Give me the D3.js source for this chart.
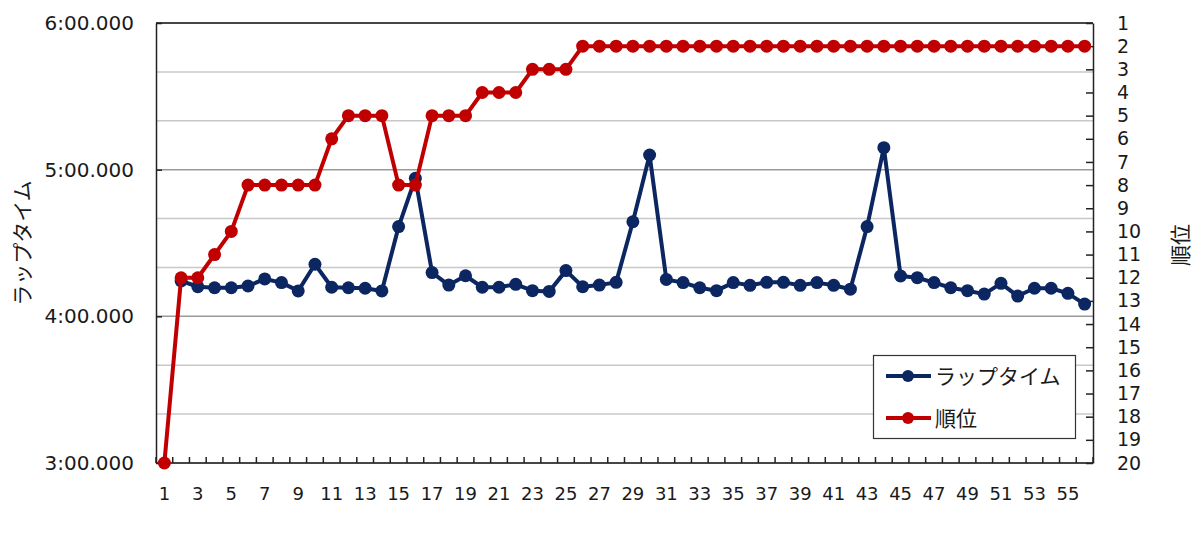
<!DOCTYPE html>
<html><head><meta charset="utf-8">
<script src="https://cdn.jsdelivr.net/npm/d3@7"></script>
<style>
body{margin:0;background:#fff;}
text{font-family:"DejaVu Sans","Noto Sans CJK JP",sans-serif;fill:#1a1a1a;}
.cjk{font-family:"Noto Sans CJK JP","DejaVu Sans",sans-serif;}
</style></head>
<body><svg id="chart" width="1200" height="554"></svg>
<script>
const laps = d3.range(1, 57);
const xTickLabels = d3.range(1, 57, 2);
// lap time in seconds (null = no lap time recorded)
const lapTime = [null,254.5,252.1,251.7,251.7,252.4,255.3,253.8,250.4,261.3,
  251.9,251.7,251.5,250.4,276.7,296.5,257.9,252.8,256.6,251.9,
  251.9,253.1,250.5,250.2,258.7,252.1,252.8,253.9,278.7,306.0,
  255.1,253.8,251.7,250.5,253.8,252.7,253.9,253.9,252.7,253.8,
  252.7,251.1,276.7,309.0,256.5,255.8,253.8,251.7,250.5,249.1,
  253.5,248.3,251.5,251.5,249.4,245.0];
const rank = [20,12,12,11,10,8,8,8,8,8,
  6,5,5,5,8,8,5,5,5,4,
  4,4,3,3,3,2,2,2,2,2,
  2,2,2,2,2,2,2,2,2,2,
  2,2,2,2,2,2,2,2,2,2,
  2,2,2,2,2,2];
const timeTicks = [180, 240, 300, 360];
const gridTicks = d3.range(180, 361, 20);
const rankTicks = d3.range(1, 21);
const seriesNames = ["ラップタイム", "順位"];
const leftTitle = "ラップタイム";
const rightTitle = "順位";

const blue = "#0b2660", red = "#c00000";
const L = 156, R = 1093, T = 23, B = 463;
const svg = d3.select("#chart");

const x = d3.scaleBand().domain(laps).range([L, R]).padding(0);
const xc = d => x(d) + x.bandwidth() / 2;
const yT = d3.scaleLinear().domain([180, 360]).range([B, T]);
const yR = d3.scaleLinear().domain([1, 20]).range([T, B]);

const fmt = s => { const m = Math.floor(s / 60); const r = s - m * 60;
  return m + ":" + String(Math.floor(r)).padStart(2, "0") + "." + String(Math.round((r % 1) * 1000)).padStart(3, "0"); };

// gridlines
svg.append("g").selectAll("line").data(gridTicks).join("line")
  .attr("x1", L).attr("x2", R).attr("y1", d => yT(d)).attr("y2", d => yT(d))
  .attr("stroke", d => d % 60 === 0 ? "#9a9a9a" : "#c8c8c8").attr("stroke-width", 1.5);

// left axis
const gl = svg.append("g").attr("transform", `translate(${L},0)`)
  .call(d3.axisLeft(yT).tickValues(timeTicks).tickFormat(fmt).tickSizeInner(-6).tickSizeOuter(0).tickPadding(22));
gl.select(".domain").attr("stroke", "#222").attr("stroke-width", 1.5);
gl.selectAll(".tick line").attr("stroke", "#222").attr("stroke-width", 1.5);
gl.selectAll("text").style("font-size", "20px").attr("fill", "#1a1a1a").style("font-family", "DejaVu Sans, sans-serif");

// right axis
const gr = svg.append("g").attr("transform", `translate(${R},0)`)
  .call(d3.axisRight(yR).tickValues(rankTicks).tickSizeInner(-7).tickSizeOuter(0).tickPadding(24));
gr.select(".domain").attr("stroke", "#222").attr("stroke-width", 1.5);
gr.selectAll(".tick line").attr("stroke", "#222").attr("stroke-width", 1.5);
gr.selectAll("text").style("font-size", "19px").attr("fill", "#1a1a1a").style("font-family", "DejaVu Sans, sans-serif");

// top border
svg.append("line").attr("x1", L).attr("x2", R).attr("y1", T).attr("y2", T).attr("stroke", "#222").attr("stroke-width", 1.5);

// bottom axis
const gb = svg.append("g").attr("transform", `translate(0,${B})`);
gb.append("line").attr("x1", L).attr("x2", R).attr("stroke", "#222").attr("stroke-width", 1.5);
gb.selectAll("line.tk").data(laps.concat([57])).join("line").attr("class", "tk")
  .attr("x1", d => d <= 56 ? x(d) : R).attr("x2", d => d <= 56 ? x(d) : R)
  .attr("y1", 0).attr("y2", -6).attr("stroke", "#222").attr("stroke-width", 1.5);
gb.selectAll("text").data(xTickLabels).join("text")
  .attr("x", d => xc(d)).attr("y", 37).attr("text-anchor", "middle")
  .style("font-size", "18px").text(d => d);

// titles
svg.append("text").attr("class", "cjk").attr("transform", "translate(30,243) rotate(-90)")
  .attr("text-anchor", "middle").style("font-size", "21px").text(leftTitle);
svg.append("text").attr("class", "cjk").attr("transform", "translate(1188,245) rotate(-90)")
  .attr("text-anchor", "middle").style("font-size", "21px").text(rightTitle);

// lap time series
const blueData = laps.map((d, i) => ({ x: d, v: lapTime[i] })).filter(d => d.v != null);
svg.append("path").datum(blueData)
  .attr("d", d3.line().x(d => xc(d.x)).y(d => yT(d.v)))
  .attr("fill", "none").attr("stroke", blue).attr("stroke-width", 4).attr("stroke-linejoin", "round");
svg.append("g").selectAll("circle").data(blueData).join("circle")
  .attr("cx", d => xc(d.x)).attr("cy", d => yT(d.v)).attr("r", 6.5).attr("fill", blue);

// rank series
const redData = laps.map((d, i) => ({ x: d, v: rank[i] }));
svg.append("path").datum(redData)
  .attr("d", d3.line().x(d => xc(d.x)).y(d => yR(d.v)))
  .attr("fill", "none").attr("stroke", red).attr("stroke-width", 4).attr("stroke-linejoin", "round");
svg.append("g").selectAll("circle").data(redData).join("circle")
  .attr("cx", d => xc(d.x)).attr("cy", d => yR(d.v)).attr("r", 6.5).attr("fill", red);

// legend
const lg = svg.append("g");
lg.append("rect").attr("x", 873.5).attr("y", 355.5).attr("width", 202).attr("height", 83)
  .attr("fill", "#fff").attr("stroke", "#333").attr("stroke-width", 1.2);
[blue, red].forEach((c, i) => {
  const yy = 376 + i * 42;
  lg.append("line").attr("x1", 886).attr("x2", 931).attr("y1", yy).attr("y2", yy).attr("stroke", c).attr("stroke-width", 4);
  lg.append("circle").attr("cx", 908).attr("cy", yy).attr("r", 6).attr("fill", c);
  lg.append("text").attr("class", "cjk").attr("x", 935).attr("y", yy).attr("dy", "0.36em")
    .style("font-size", "21px").text(seriesNames[i]);
});
</script></body></html>
